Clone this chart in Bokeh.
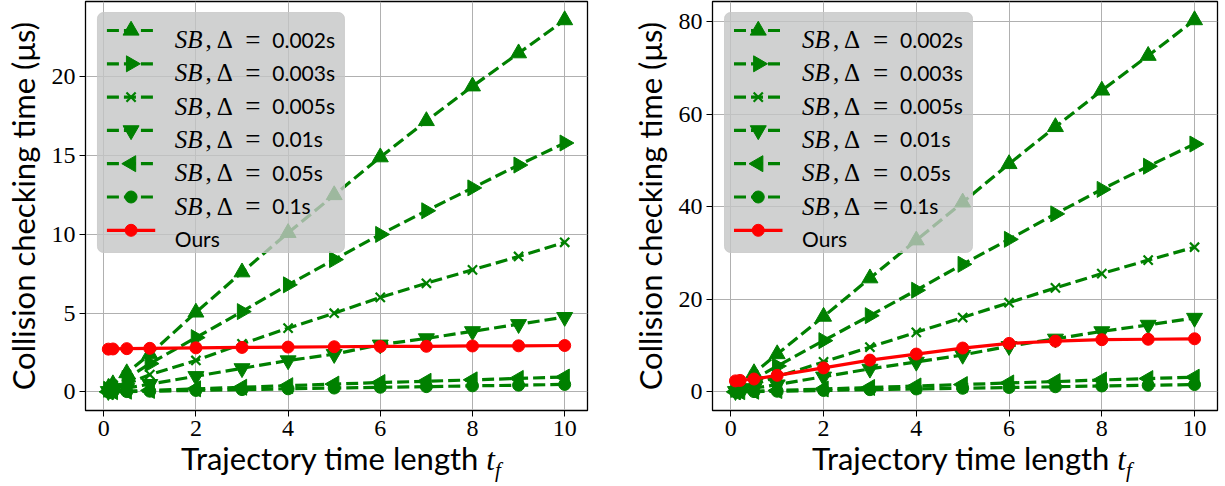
import math
from bokeh.plotting import figure
from bokeh.layouts import row, column
from bokeh.models import Range1d, BoxAnnotation, Div
from bokeh.core.properties import value
from bokeh.embed import file_html
from bokeh.resources import INLINE

# ---------------- data ----------------
t = [0.1, 0.2, 0.5, 1, 2, 3, 4, 5, 6, 7, 8, 9, 10]

deltas = ["0.002s", "0.003s", "0.005s", "0.01s", "0.05s", "0.1s"]
ours_label = "Ours"

# left panel
sb002_a = [0.25, 0.5, 1.2, 2.4, 5.05, 7.6, 10.1, 12.5, 14.9, 17.2, 19.4, 21.5, 23.6]
sb003_a = [0.17, 0.34, 0.85, 1.8, 3.45, 5.1, 6.8, 8.4, 10.0, 11.5, 12.95, 14.4, 15.8]
sb005_a = [0.1, 0.2, 0.5, 1.1, 2.0, 3.05, 4.05, 5.0, 6.0, 6.9, 7.75, 8.6, 9.5]
sb01_a = [0.05, 0.1, 0.25, 0.5, 1.0, 1.5, 2.0, 2.4, 3.0, 3.4, 3.85, 4.3, 4.75]
sb05_a = [0.01, 0.02, 0.05, 0.1, 0.2, 0.3, 0.4, 0.5, 0.6, 0.68, 0.77, 0.86, 0.95]
sb1_a = [0.005, 0.01, 0.025, 0.05, 0.1, 0.15, 0.2, 0.25, 0.3, 0.34, 0.39, 0.43, 0.48]
ours_a = [2.72, 2.73, 2.75, 2.77, 2.8, 2.83, 2.85, 2.87, 2.89, 2.9, 2.92, 2.93, 2.95]

# right panel
sb002_b = [0.8, 1.6, 4.1, 8.2, 16.3, 24.6, 32.8, 41.0, 49.3, 57.3, 65.2, 72.7, 80.4]
sb003_b = [0.55, 1.1, 2.8, 5.6, 11.1, 16.5, 22.0, 27.6, 33.0, 38.5, 43.8, 48.8, 53.6]
sb005_b = [0.33, 0.65, 1.65, 3.3, 6.5, 9.7, 12.9, 16.1, 19.3, 22.5, 25.6, 28.5, 31.3]
sb01_b = [0.16, 0.32, 0.8, 1.6, 3.3, 5.0, 6.5, 8.0, 9.9, 11.5, 13.1, 14.5, 16.0]
sb05_b = [0.03, 0.07, 0.16, 0.32, 0.65, 0.97, 1.3, 1.6, 1.95, 2.25, 2.6, 2.9, 3.2]
sb1_b = [0.016, 0.03, 0.08, 0.16, 0.33, 0.5, 0.65, 0.8, 0.97, 1.13, 1.3, 1.45, 1.6]
ours_b = [2.4, 2.5, 2.8, 3.6, 5.2, 6.9, 8.2, 9.5, 10.5, 11.0, 11.3, 11.4, 11.5]

xticks = [0, 2, 4, 6, 8, 10]
yticks_a = [0, 5, 10, 15, 20]
yticks_b = [0, 20, 40, 60, 80]

ylabel = "Collision checking time (μs)"
xlabel = "Trajectory time length"

# ---------------- style ----------------
GREEN = "#008000"
RED = "#ff0000"
markers = ["triangle", "triangle", "x", "inverted_triangle", "triangle", "circle"]
angles = [0, -math.pi / 2, 0, 0, math.pi / 2, 0]
msizes = [16, 16, 13, 16, 16, 12]
SANS = "Lato"
SERIF = "Liberation Serif"
DASH = "12 5"
LW = 3.2
H = 449          # figure height (x-axis title lives in a Div below)
DIV_H = 486 - H
BTOP, BBOT = 1, 39


def make_panel(series, ours, yticks, width, border_left, border_right):
    allv = [v for s in series for v in s] + ours
    lo, hi = min(allv), max(allv)
    ypad = 0.05 * (hi - lo)
    xlo, xhi = min(t), max(t)
    xpad = 0.05 * (xhi - xlo)
    x0, x1 = xlo - xpad, xhi + xpad
    y0, y1 = lo - ypad, hi + ypad
    fw = width - border_left - border_right
    fh = H - BTOP - BBOT

    p = figure(width=width, height=H,
               x_range=Range1d(x0, x1), y_range=Range1d(y0, y1),
               output_backend="svg", toolbar_location=None,
               min_border_left=border_left, min_border_right=border_right,
               min_border_top=BTOP, min_border_bottom=BBOT)
    p.background_fill_color = "white"
    p.border_fill_color = "white"
    p.outline_line_color = "black"
    p.outline_line_width = 1.3

    p.xgrid.grid_line_color = "#b0b0b0"
    p.ygrid.grid_line_color = "#b0b0b0"
    p.xgrid.grid_line_width = 1
    p.ygrid.grid_line_width = 1

    p.xaxis.ticker = xticks
    p.yaxis.ticker = yticks
    for ax in (p.xaxis[0], p.yaxis[0]):
        ax.axis_line_color = "black"
        ax.major_tick_line_color = "black"
        ax.major_tick_out = 6
        ax.major_tick_in = 0
        ax.minor_tick_line_color = None
        ax.major_label_text_font = SERIF
        ax.major_label_text_font_size = "24px"
        ax.major_label_text_color = "black"
        ax.major_label_standoff = 4
    p.yaxis.axis_label = ylabel
    p.yaxis.axis_label_text_font = SANS
    p.yaxis.axis_label_text_font_size = "31px"
    p.yaxis.axis_label_text_font_style = "normal"
    p.yaxis.axis_label_text_color = "black"
    p.yaxis.axis_label_standoff = 7

    # data series
    for s, m, a, ms in zip(series, markers, angles, msizes):
        p.line(t, s, line_color=GREEN, line_width=LW, line_dash=DASH)
        p.scatter(t, s, marker=m, angle=a, size=ms, fill_color=GREEN,
                  line_color=GREEN, line_width=2.2 if m == "x" else 1)
    p.line(t, ours, line_color=RED, line_width=LW)
    p.scatter(t, ours, marker="circle", size=12, fill_color=RED, line_color=RED)

    # ---- legend (frame-pixel layout converted to data space) ----
    def X(px):
        return x0 + px / fw * (x1 - x0)

    def Y(py):
        return y1 - py / fh * (y1 - y0)

    box = BoxAnnotation(left=X(12), right=X(260), top=Y(11), bottom=Y(251),
                        fill_color="#c4c6c6", fill_alpha=0.8,
                        line_color="#c8c8c8", line_alpha=0.8, line_width=1,
                        border_radius=6, level="annotation")
    p.add_layout(box)
    row_h = 33.3
    gx0, gx1 = 21.5, 70.0
    gxc = (gx0 + gx1) / 2
    for i in range(7):
        cy = 29 + i * row_h
        if i < 6:
            p.line([X(gx0), X(gx1)], [Y(cy), Y(cy)], line_color=GREEN,
                   line_width=LW, line_dash=DASH, level="overlay")
            p.scatter([X(gxc)], [Y(cy)], marker=markers[i], angle=angles[i],
                      size=msizes[i], fill_color=GREEN, line_color=GREEN,
                      line_width=2.2 if markers[i] == "x" else 1, level="overlay")
            p.text([X(89.6)], [Y(cy + 9)], text=["SB"], text_font=value(SERIF),
                   text_font_style="italic", text_font_size="25px",
                   text_baseline="alphabetic", text_color="black", level="overlay")
            p.text([X(120.5)], [Y(cy + 9)], text=[", Δ"], text_font=value(SERIF),
                   text_font_size="25px", text_baseline="alphabetic",
                   text_color="black", level="overlay")
            p.text([X(160.5)], [Y(cy + 9)], text=["="], text_font=value(SERIF),
                   text_font_size="27px", text_baseline="alphabetic",
                   text_color="black", level="overlay")
            p.text([X(187.5)], [Y(cy + 8.5)], text=[deltas[i]], text_font=value(SANS),
                   text_font_size="21px", text_baseline="alphabetic",
                   text_color="black", level="overlay")
        else:
            p.line([X(gx0), X(gx1)], [Y(cy), Y(cy)], line_color=RED,
                   line_width=LW, level="overlay")
            p.scatter([X(gxc)], [Y(cy)], marker="circle", size=12,
                      fill_color=RED, line_color=RED, level="overlay")
            p.text([X(89.6)], [Y(cy + 8.5)], text=[ours_label], text_font=value(SANS),
                   text_font_size="21px", text_baseline="alphabetic",
                   text_color="black", level="overlay")
    return p


def xtitle(width, pad_left):
    html = ('<span style="position:relative; top:-6px; white-space:nowrap;">'
            + xlabel + ' <i style="font-family:\'Liberation Serif\'; font-size:31px;">t</i>'
            '<sub style="font-family:\'Liberation Serif\'; font-style:italic; '
            'font-size:21px; line-height:0;">f</sub></span>')
    return Div(text=html, width=width, height=DIV_H, margin=0,
               styles={"font-family": "Lato", "font-size": "31px",
                       "line-height": "31px", "color": "black",
                       "padding-left": f"{pad_left}px", "overflow": "visible",
                       "background-color": "white"})


p1 = make_panel([sb002_a, sb003_a, sb005_a, sb01_a, sb05_a, sb1_a], ours_a,
                yticks_a, 612, 83, 25)
p2 = make_panel([sb002_b, sb003_b, sb005_b, sb01_b, sb05_b, sb1_b], ours_b,
                yticks_b, 613, 100, 8)
d1 = xtitle(612, 181)
d2 = xtitle(613, 200)

layout = column(row(p1, p2, spacing=0), row(d1, d2, spacing=0), spacing=0)
open("out.html", "w").write(file_html(layout, INLINE))
